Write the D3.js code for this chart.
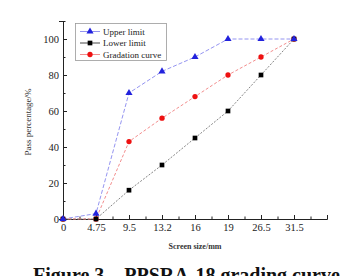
<!DOCTYPE html>
<html><head><meta charset="utf-8">
<script src="https://cdn.jsdelivr.net/npm/d3@7"></script>
<style>body{margin:0;background:#fff;} svg{display:block;}</style>
</head><body>
<svg id="c" width="359" height="276"></svg>
<script>
const categories = ["0","4.75","9.5","13.2","16","19","26.5","31.5"];
const upperLimit = [0, 3, 70, 82, 90, 100, 100, 100];
const lowerLimit = [0, 0, 16, 30, 45, 60, 80, 100];
const gradation  = [0, 0, 43, 56, 68, 80, 90, 100];
const yTicks = [0, 20, 40, 60, 80, 100];

const svg = d3.select("#c");
const font = "Liberation Serif, Times New Roman, serif";
const x = d3.scaleLinear().domain([0, 8]).range([63, 327]);
const y = d3.scaleLinear().domain([0, 110]).range([219, 21]);

// axes
const xAxis = d3.axisBottom(x).tickValues(d3.range(0, 8.01, 0.5)).tickSize(-4)
  .tickFormat(d => Number.isInteger(d) && d < categories.length ? categories[d] : "");
const gx = svg.append("g").attr("transform", "translate(0,219)").call(xAxis);
gx.selectAll(".tick line").attr("y2", (d) => Number.isInteger(d) ? -4 : -2.5);
gx.selectAll("text").attr("font-family", font).attr("font-size", 10.5).attr("dy", "0.9em").attr("fill", "#222");
const yAxis = d3.axisLeft(y).tickValues(d3.range(0, 110.01, 10)).tickSize(4)
  .tickFormat(d => yTicks.includes(d) ? d : "");
const gy = svg.append("g").attr("transform", "translate(63,0)").call(yAxis);
gy.selectAll(".tick line").attr("x2", d => yTicks.includes(d) ? 4 : 2.5);
gy.selectAll("text").attr("font-family", font).attr("font-size", 10.5).attr("x", -4).attr("fill", "#222");
svg.selectAll(".domain").attr("stroke", "#222");
svg.selectAll(".tick line").attr("stroke", "#222");

const line = d3.line().x((d, i) => x(i)).y(d => y(d));
const series = [
  {name: "Upper limit", data: upperLimit, color: "#2222dd", lc: "#8888ee", dash: "4,2", shape: d3.symbolTriangle},
  {name: "Lower limit", data: lowerLimit, color: "#000000", lc: "#777777", dash: "2,1.5", shape: d3.symbolSquare},
  {name: "Gradation curve", data: gradation, color: "#ee1111", lc: "#f08080", dash: "3,2", shape: d3.symbolCircle}
];
series.forEach(s => {
  svg.append("path").attr("d", line(s.data)).attr("fill", "none")
    .attr("stroke", s.lc).attr("stroke-width", 0.9).attr("stroke-dasharray", s.dash);
});
series.slice().reverse().forEach(s => {
  svg.append("g").selectAll("path").data(s.data).join("path")
    .attr("transform", (d, i) => `translate(${x(i)},${y(d)})`)
    .attr("d", d3.symbol().type(s.shape).size(22)).attr("fill", s.color);
});

// legend
const lg = svg.append("g");
lg.append("rect").attr("x", 75.5).attr("y", 23.5).attr("width", 91).attr("height", 37)
  .attr("fill", "#fff").attr("stroke", "#999").attr("stroke-width", 0.8);
series.forEach((s, i) => {
  const yy = 31.5 + i * 11.5;
  lg.append("line").attr("x1", 80).attr("x2", 100).attr("y1", yy).attr("y2", yy).attr("stroke", s.color === "#000000" ? "#333" : s.lc).attr("stroke-width", 0.9);
  lg.append("path").attr("transform", `translate(90,${yy})`).attr("d", d3.symbol().type(s.shape).size(22)).attr("fill", s.color);
  lg.append("text").attr("x", 103).attr("y", yy + 3).text(s.name)
    .attr("font-family", font).attr("font-size", 9).attr("fill", "#222");
});

// axis titles
svg.append("text").attr("x", 195).attr("y", 249).attr("text-anchor", "middle")
  .attr("font-family", font).attr("font-size", 8).attr("font-weight", "bold").attr("fill", "#333").text("Screen size/mm");
svg.append("text").attr("transform", "translate(31,122) rotate(-90)").attr("text-anchor", "middle")
  .attr("font-family", font).attr("font-size", 9).attr("fill", "#333").text("Pass percentage/%");
// caption
svg.append("text").attr("x", 33).attr("y", 282).attr("font-family", font).attr("font-size", 20)
  .attr("font-weight", "bold").attr("fill", "#111").attr("xml:space", "preserve").text("Figure 3    PPSRA-18 grading curve");
</script>
</body></html>
